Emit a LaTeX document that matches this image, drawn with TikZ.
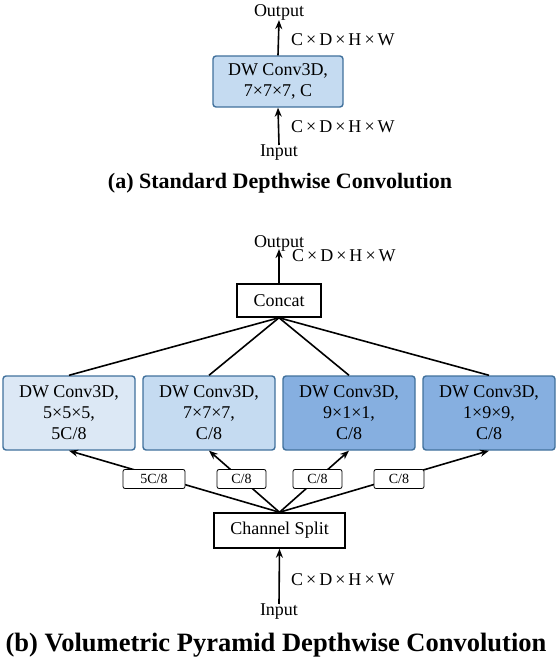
\documentclass[tikz,border=0pt]{standalone}
\usepackage{fontspec}
\setmainfont{Liberation Serif}
\usetikzlibrary{arrows.meta}
\definecolor{bordc}{HTML}{41719C}
\definecolor{fillA}{HTML}{C5DBF1}
\definecolor{fillL}{HTML}{DCE8F5}
\definecolor{fillD}{HTML}{86AFE0}
\begin{document}
\begin{tikzpicture}[x=1pt,y=-1pt,
  txt/.style={font=\fontsize{18}{21}\selectfont, inner sep=0pt},
  dwbox/.style={draw=bordc, line width=1.4pt, rounded corners=3pt, align=center,
    font=\fontsize{18}{21}\selectfont, inner sep=0pt},
  plainbox/.style={draw=black, line width=1.5pt, fill=white, align=center,
    font=\fontsize{18}{21}\selectfont, inner sep=0pt},
  lab/.style={draw=black, line width=0.8pt, fill=white, rounded corners=2pt,
    font=\fontsize{14}{16}\selectfont, inner sep=0pt, minimum height=19pt},
  arr/.style={line width=1.6pt, -{Stealth[length=9pt,width=7pt]}},
  ln/.style={line width=1.6pt},
  captxt/.style={font=\fontsize{22}{26}\selectfont\bfseries, inner sep=0pt}]
\useasboundingbox (0,0) rectangle (559,661);
% (a)
\node[txt] (out1) at (279,12) {Output};
\node[dwbox, fill=fillA, minimum width=130pt, minimum height=51pt] (boxa) at (278,81.5) {DW Conv3D,\\7×7×7, C};
\node[txt] (in1) at (279,153) {Input};
\draw[arr] (in1.north) -- (boxa.south);
\draw[arr] (boxa.north) -- (out1.south);
\node[txt, anchor=west] (da1) at (291,40) {C\,×\,D\,×\,H\,×\,W};
\node[txt, anchor=west] (da2) at (291,127) {C\,×\,D\,×\,H\,×\,W};
\node[captxt] (capa) at (280,183) {(a) Standard Depthwise Convolution};
% (b)
\node[txt] (out2) at (279,243) {Output};
\node[txt, anchor=west] (db1) at (292,256) {C\,×\,D\,×\,H\,×\,W};
\node[plainbox, minimum width=84pt, minimum height=33pt] (concat) at (279,300.5) {Concat};
\node[dwbox, fill=fillL, minimum width=132pt, minimum height=74pt] (b1) at (69,413) {DW Conv3D,\\5×5×5,\\5C/8};
\node[dwbox, fill=fillA, minimum width=132pt, minimum height=74pt] (b2) at (209,413) {DW Conv3D,\\7×7×7,\\C/8};
\node[dwbox, fill=fillD, minimum width=132pt, minimum height=74pt] (b3) at (349,413) {DW Conv3D,\\9×1×1,\\C/8};
\node[dwbox, fill=fillD, minimum width=132pt, minimum height=74pt] (b4) at (489,413) {DW Conv3D,\\1×9×9,\\C/8};
\node[plainbox, minimum width=131pt, minimum height=35pt] (split) at (279.5,530.5) {Channel Split};
\node[txt] (in2) at (279,612) {Input};
\node[txt, anchor=west] (db2) at (291,580) {C\,×\,D\,×\,H\,×\,W};
\draw[arr] (concat.north) -- ([yshift=2pt]out2.south);
\draw[arr] (in2.north) -- (split.south);
\foreach \b in {b1,b2,b3,b4} {
  \draw[ln] (concat.south) -- (\b.north);
  \draw[arr] (split.north) -- (\b.south);
}
\node[lab, minimum width=62pt] (l1) at (154,479) {5C/8};
\node[lab, minimum width=49pt] (l2) at (241.5,479) {C/8};
\node[lab, minimum width=49pt] (l3) at (317.5,479) {C/8};
\node[lab, minimum width=50pt] (l4) at (399,479) {C/8};
\node[captxt, font=\fontsize{26.5}{30}\selectfont\bfseries] (capb) at (276,645) {(b) Volumetric Pyramid Depthwise Convolution};
\end{tikzpicture}
\end{document}
